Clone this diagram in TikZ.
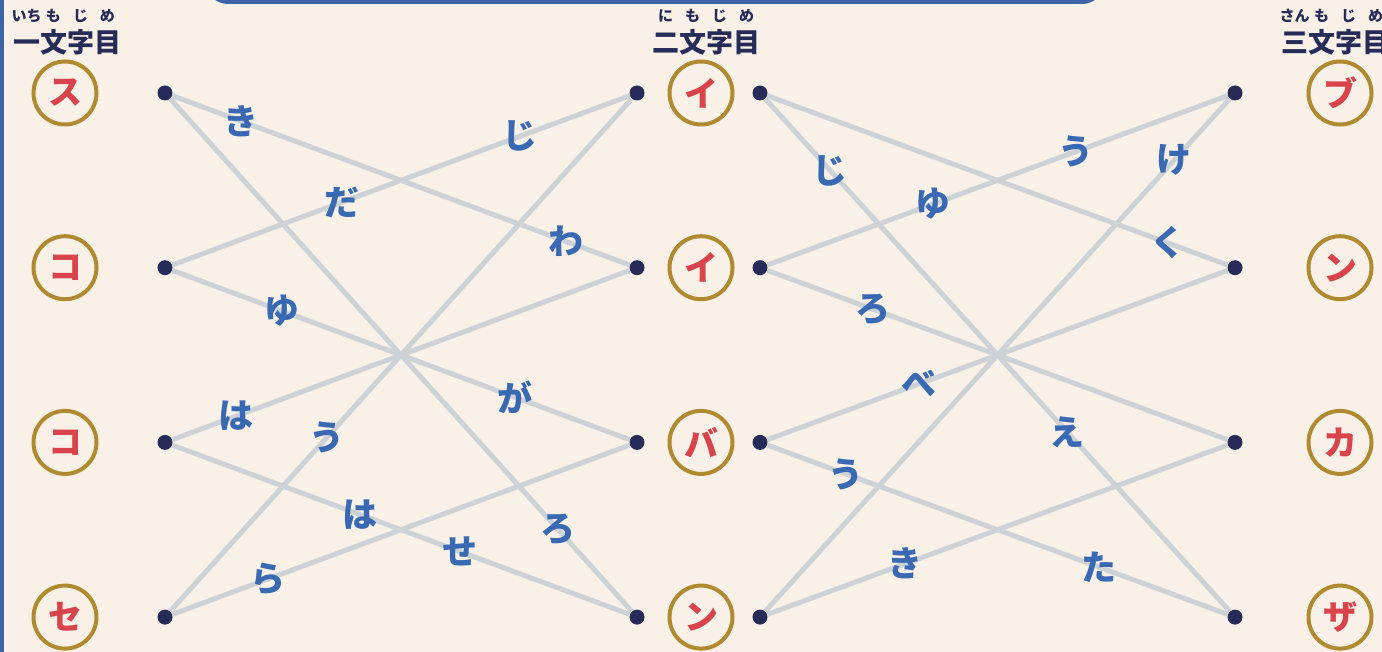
\documentclass[tikz,border=0pt]{standalone}
\usepackage{fontspec}
\newfontfamily\jp{Noto Sans CJK JP}
\definecolor{cream}{HTML}{F9F1E7}
\definecolor{navy}{HTML}{262B57}
\definecolor{gold}{HTML}{B08A30}
\definecolor{kanared}{HTML}{D9434B}
\definecolor{linegray}{HTML}{CDD2D6}
\definecolor{lblblue}{HTML}{3A69B3}
\definecolor{frameblue}{HTML}{3D64A8}
% ruby over one kanji
\newcommand\rb[2]{\leavevmode\vbox{\offinterlineskip\halign{\hfil##\hfil\cr
  \hbox to 0pt{\hss\fontsize{7.5}{7.5}\selectfont\rule[-1pt]{0pt}{7.5pt}#2\hss}\cr
  \noalign{\kern2.5pt}\rule{0pt}{12pt}#1\cr}}}

\begin{document}
\begin{tikzpicture}[x=0.5pt,y=-0.5pt,
  dot/.style={circle,fill=navy,inner sep=0pt,minimum size=7.5pt},
  kana/.style={circle,draw=gold,line width=2pt,minimum size=31.5pt,inner sep=0pt,
    text=kanared,font={\jp\bfseries\fontsize{17}{17}\selectfont}},
  link/.style={draw=linegray,line width=2.5pt},
  lbl/.style={text=lblblue,inner sep=0pt,font={\jp\bfseries\fontsize{17.5}{17.5}\selectfont}},
  head/.style={text=navy,inner sep=0pt,font={\jp\bfseries\fontsize{13.5}{13.5}\selectfont}}]

\fill[cream] (0,0) rectangle (1382,652);
\useasboundingbox (0,0) rectangle (1382,652);
\draw[frameblue,line width=2pt] (1.5,0) -- (1.5,652);
\draw[frameblue,line width=2.5pt,rounded corners=10pt] (208,-40) rectangle (1102,1.5);

% headings
\node[head] (h1) at (67,32) {\rb{一}{いち}\rb{文}{も}\rb{字}{じ}\rb{目}{め}};
\node[head] (h2) at (706,32) {\rb{二}{に}\rb{文}{も}\rb{字}{じ}\rb{目}{め}};
\node[head] (h3) at (1335,32) {\rb{三}{さん}\rb{文}{も}\rb{字}{じ}\rb{目}{め}};

% letters
\foreach \t [count=\i] in {ス,コ,コ,セ}
  \node[kana] (s\i) at (65,{93+174.7*(\i-1)}) {\t};
\foreach \t [count=\i] in {イ,イ,バ,ン}
  \node[kana] (m\i) at (701,{93+174.7*(\i-1)}) {\t};
\foreach \t [count=\i] in {ブ,ン,カ,ザ}
  \node[kana] (e\i) at (1340,{93+174.7*(\i-1)}) {\t};

% dots
\foreach \i in {1,...,4} {
  \node[dot] (a\i) at (165,{93+174.7*(\i-1)}) {};
  \node[dot] (b\i) at (637,{93+174.7*(\i-1)}) {};
  \node[dot] (c\i) at (760,{93+174.7*(\i-1)}) {};
  \node[dot] (d\i) at (1235,{93+174.7*(\i-1)}) {};
}

% first crossing
\draw[link] (a1) -- node[lbl,pos=.15] {き} node[lbl,pos=.86] {わ} (b2);
\draw[link] (a1) -- node[lbl,pos=.84] {ろ} (b4);
\draw[link] (a2) -- node[lbl,pos=.37] {だ} node[lbl,pos=.76] {じ} (b1);
\draw[link] (a2) -- node[lbl,pos=.24] {ゆ} node[lbl,pos=.75] {が} (b3);
\draw[link] (a3) -- node[lbl,pos=.14] {は} (b2);
\draw[link] (a3) -- node[lbl,pos=.41] {は} node[lbl,pos=.63] {せ} (b4);
\draw[link] (a4) -- node[lbl,pos=.21] {ら} (b3);
\draw[link] (a4) -- node[lbl,pos=.34] {う} (b1);

% second crossing
\draw[link] (c1) -- node[lbl,pos=.14] {じ} node[lbl,pos=.65] {え} (d4);
\draw[link] (c1) -- node[lbl,pos=.87] {く} (d2);
\draw[link] (c2) -- node[lbl,pos=.36] {ゆ} node[lbl,pos=.67] {う} (d1);
\draw[link] (c2) -- node[lbl,pos=.23] {ろ} (d3);
\draw[link] (c3) -- node[lbl,pos=.33] {べ} (d2);
\draw[link] (c3) -- node[lbl,pos=.17] {う} node[lbl,pos=.72] {た} (d4);
\draw[link] (c4) -- node[lbl,pos=.30] {き} (d3);
\draw[link] (c4) -- node[lbl,pos=.88] {け} (d1);

\end{tikzpicture}
\end{document}
